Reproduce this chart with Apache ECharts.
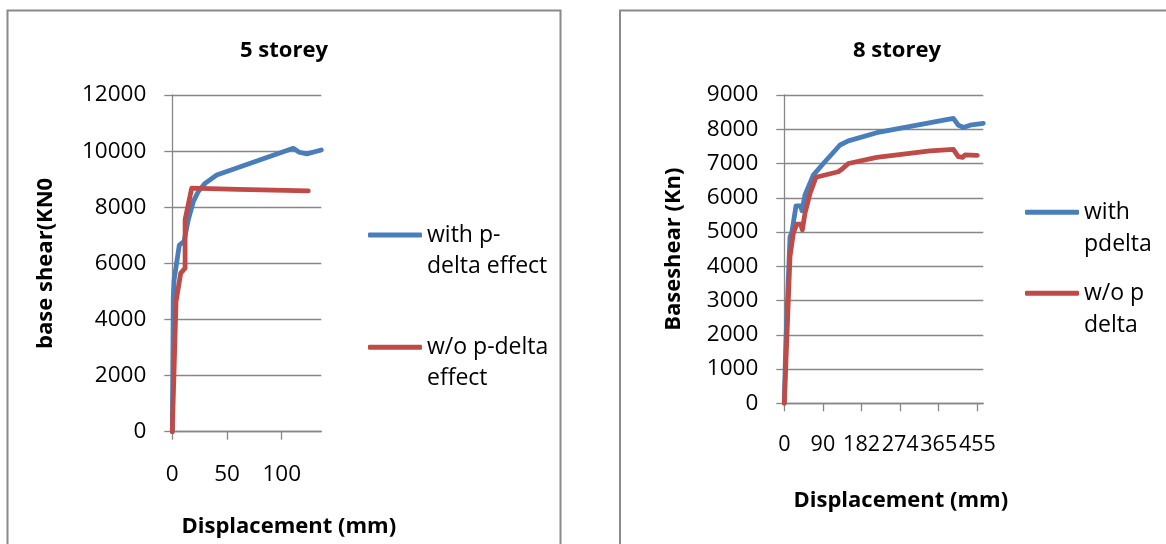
<!DOCTYPE html>
<html><head><meta charset="utf-8">
<script src="https://cdn.jsdelivr.net/npm/echarts@6/dist/echarts.min.js"></script>
<style>html,body{margin:0;padding:0;background:#fff;overflow:hidden}#c{width:1166px;height:544px}</style>
</head><body><div id="c"></div>
<script>
// ---------- 5 storey ----------
const s5Title = '5 storey';
const s5SeriesNames = ['with p-delta effect', 'w/o p-delta effect'];
const s5LegendLabels = ['with p-\ndelta effect', 'w/o p-delta\neffect'];
const s5WithX = [0, 0.9, 1.6, 6.4, 10.7, 14.6, 19.2, 23.8, 29.9, 40.6, 110.6, 116, 123, 136.2];
const s5WithY = [0, 4800, 5400, 6650, 6780, 7550, 8200, 8560, 8850, 9150, 10100, 9960, 9900, 10040];
const s5WoX = [0, 3.4, 7.7, 11.7, 11.7, 17.7, 60, 124.3];
const s5WoY = [0, 4640, 5650, 5830, 7550, 8680, 8640, 8580];
const s5XTicks = [0, 50, 100];
const s5XTickLabels = ['0', '50', '100'];
const s5XName = 'Displacement (mm)';
const s5YName = 'base shear(KN0';

// ---------- 8 storey ----------
const s8Title = '8 storey';
const s8SeriesNames = ['with pdelta', 'w/o p delta'];
const s8LegendLabels = ['with\npdelta', 'w/o p\ndelta'];
const s8WithX = [0, 3.3, 13.4, 17.4, 27.6, 38.6, 41.7, 48.8, 68.4, 92, 131.3, 151, 217.8, 398.4, 410, 422, 437.8, 469];
const s8WithY = [0, 1650, 4860, 4960, 5760, 5760, 5620, 6080, 6660, 7000, 7540, 7660, 7900, 8320, 8120, 8050, 8120, 8170];
const s8WoX = [0, 13.4, 21.2, 29.2, 38.7, 42.5, 48.8, 60.6, 74.7, 127.3, 135.3, 151, 217.8, 343.5, 398.4, 410, 420.5, 426, 455];
const s8WoY = [0, 4280, 4960, 5230, 5230, 5060, 5550, 6130, 6600, 6760, 6830, 7000, 7180, 7370, 7410, 7200, 7180, 7250, 7240];
const s8XTicks = [0, 91, 182, 273, 364, 455];
const s8XTickLabels = ['0', '90', '182', '274', '365', '455'];
const s8XName = 'Displacement (mm)';
const s8YName = 'Baseshear (Kn)';

const BLUE = '#4A7EBB', RED = '#BE4B48', GRID = '#878787';
const FONT = '"Open Sans", "Noto Sans", sans-serif';

function pairs(xs, ys) { return xs.map((x, i) => [x, ys[i]]); }

const allNames = s5SeriesNames.concat(s8SeriesNames);
const allLabels = s5LegendLabels.concat(s8LegendLabels);

function makeLine(name, xs, ys, color, idx) {
  return {
    name: name, type: 'line', xAxisIndex: idx, yAxisIndex: idx,
    data: pairs(xs, ys), showSymbol: false, symbol: 'none', smooth: false,
    itemStyle: { color: color },
    lineStyle: { color: color, width: 4.8, cap: 'round', join: 'round' },
    emphasis: { disabled: true }, animation: false
  };
}

function xAxis(idx, max, ticks, labels, name, gap, shift, fs) {
  return {
    type: 'value', gridIndex: idx, min: 0, max: max,
    splitLine: { show: false },
    axisLine: { show: true, onZero: false, lineStyle: { color: GRID, width: 1.3 } },
    axisTick: { show: true, inside: false, length: 8, customValues: ticks, lineStyle: { color: GRID, width: 1.3 } },
    axisLabel: {
      customValues: ticks, margin: 31, color: '#000', fontFamily: FONT, fontSize: fs,
      interval: 0, hideOverlap: false, showMinLabel: true, showMaxLabel: true,
      formatter: function (v) { const i = ticks.indexOf(v); return i >= 0 ? labels[i] : ''; }
    },
    name: name, nameLocation: 'middle', nameGap: gap,
    nameTextStyle: { color: '#000', fontFamily: FONT, fontSize: 22, fontWeight: 'bold', padding: [0, 0, 0, shift] }
  };
}

function yAxis(idx, max, interval, name, gap) {
  return {
    type: 'value', gridIndex: idx, min: 0, max: max, interval: interval,
    splitLine: { show: true, lineStyle: { color: GRID, width: 1.3 } },
    axisLine: { show: true, lineStyle: { color: GRID, width: 1.3 } },
    axisTick: { show: true, inside: false, length: 8, lineStyle: { color: GRID, width: 1.3 } },
    axisLabel: { margin: 26, color: '#000', fontFamily: FONT, fontSize: 22.5, formatter: function (v) { return String(v); } },
    name: name, nameLocation: 'middle', nameGap: gap,
    nameTextStyle: { color: '#000', fontFamily: FONT, fontSize: 22, fontWeight: 'bold' }
  };
}

function legend(name, left, top, lh) {
  return {
    data: [name], orient: 'vertical', left: left, top: top, padding: 0,
    icon: 'roundRect', itemWidth: 54, itemHeight: 5, itemGap: 0, selectedMode: false,
    formatter: function (n) { return '\n' + allLabels[allNames.indexOf(n)]; },
    textStyle: { color: '#000', fontFamily: FONT, fontSize: 23, lineHeight: lh }
  };
}

const titleStyle = { color: '#000', fontFamily: FONT, fontSize: 22, fontWeight: 'bold' };

const option = {
  backgroundColor: '#fff',
  animation: false,
  title: [
    { text: s5Title, left: 284, top: 51, textAlign: 'center', textVerticalAlign: 'middle', padding: 0, textStyle: titleStyle },
    { text: s8Title, left: 897, top: 51, textAlign: 'center', textVerticalAlign: 'middle', padding: 0, textStyle: titleStyle }
  ],
  legend: [
    legend(s5SeriesNames[0], 368, 235 - 46.5, 31),
    legend(s5SeriesNames[1], 368, 347.3 - 46.5, 31),
    legend(s8SeriesNames[0], 1025, 212.3 - 48, 32),
    legend(s8SeriesNames[1], 1025, 293.3 - 48, 32)
  ],
  grid: [
    { left: 172.3, top: 95, width: 149, height: 336.7, outerBoundsMode: 'none', containLabel: false },
    { left: 784.3, top: 95, width: 199, height: 308.3, outerBoundsMode: 'none', containLabel: false }
  ],
  xAxis: [
    xAxis(0, 136.2, s5XTicks, s5XTickLabels, s5XName, 84, 84, 22.5),
    xAxis(1, 469, s8XTicks, s8XTickLabels, s8XName, 86, 34, 21.5)
  ],
  yAxis: [
    yAxis(0, 12000, 2000, s5YName, 116),
    yAxis(1, 9000, 1000, s8YName, 100)
  ],
  series: [
    makeLine(s5SeriesNames[0], s5WithX, s5WithY, BLUE, 0),
    makeLine(s5SeriesNames[1], s5WoX, s5WoY, RED, 0),
    makeLine(s8SeriesNames[0], s8WithX, s8WithY, BLUE, 1),
    makeLine(s8SeriesNames[1], s8WoX, s8WoY, RED, 1)
  ],
  graphic: [
    { type: 'rect', shape: { x: 7.5, y: 10.5, width: 553, height: 600 }, style: { fill: 'none', stroke: '#8a8a8a', lineWidth: 2 }, silent: true, z: -1 },
    { type: 'rect', shape: { x: 620, y: 10.5, width: 600, height: 600 }, style: { fill: 'none', stroke: '#8a8a8a', lineWidth: 2 }, silent: true, z: -1 }
  ]
};

const chart = echarts.init(document.getElementById('c'), null, { renderer: 'canvas' });
chart.setOption(option);
</script>
</body></html>
